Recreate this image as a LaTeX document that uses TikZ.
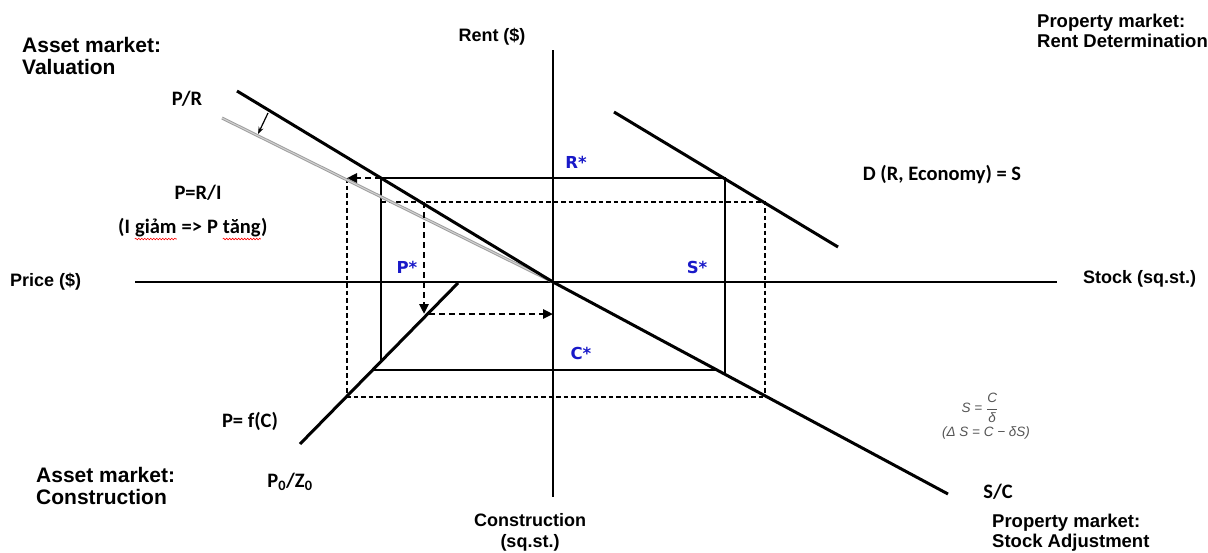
\documentclass[tikz,border=0pt]{standalone}
\usepackage{fontspec}
\setmainfont{Liberation Sans}
\newfontfamily\calib{Carlito}
\newfontfamily\dvs{DejaVu Sans}
\usetikzlibrary{arrows.meta,decorations.pathmorphing}
\definecolor{starblue}{RGB}{25,25,200}
\definecolor{fgray}{RGB}{85,85,85}
\begin{document}
\begin{tikzpicture}[x=1pt,y=-1pt,
  axis/.style={line width=1.8pt},
  curve/.style={line width=3pt},
  thinline/.style={line width=1.2pt},
  dsh/.style={line width=1.2pt, dash pattern=on 4.5pt off 3pt},
  darr/.style={line width=2.6pt, dash pattern=on 6pt off 4pt, -{Triangle[length=10pt,width=9pt]}},
  ttlA/.style={font=\bfseries\fontsize{21}{22}\selectfont, align=left, inner sep=0},
  ttl/.style={font=\bfseries\fontsize{18.5}{20}\selectfont, align=left, inner sep=0},
  axl/.style={font=\bfseries\fontsize{18}{21}\selectfont, align=center, inner sep=0},
  lbl/.style={font=\calib\bfseries\fontsize{20.5}{22}\selectfont, inner sep=0},
  star/.style={font=\dvs\bfseries\fontsize{16.5}{18}\selectfont, text=starblue, inner sep=0},
  fml/.style={font=\itshape\fontsize{13.5}{15}\selectfont, text=fgray, inner sep=0},
  squig/.style={red, line width=0.6pt, decorate, decoration={snake, segment length=3pt, amplitude=0.8pt}},
]
\useasboundingbox (0,0) rectangle (1208,552);
% coordinates
\coordinate (O) at (553,282);
\coordinate (axT) at (553,50);
\coordinate (axB) at (553,497);
\coordinate (axL) at (135,282);
\coordinate (axR) at (1057,282);
\coordinate (pr1) at (237,91);
\coordinate (sc2) at (948,494);
\coordinate (g1) at (222,118);
\coordinate (d1) at (614,112);
\coordinate (d2) at (838,247);
\coordinate (f1) at (300,444);
\coordinate (f2) at (458,283);
\coordinate (A) at (381,178);
\coordinate (B) at (725,178);
\coordinate (B2) at (725,374);
\coordinate (A2) at (381,362);
\coordinate (C1) at (372,370);
\coordinate (C2) at (717,370);
\coordinate (E1) at (381,202);
\coordinate (E2) at (765,202);
\coordinate (E3) at (765,396);
\coordinate (F1) at (346,397);
\coordinate (F2) at (767,397);
\coordinate (G1) at (347,178);
\coordinate (G2) at (347,396);
\coordinate (H1) at (424,202);
\coordinate (H2) at (424,314);
\coordinate (K1) at (429,314);
\coordinate (K2) at (553,314);
\coordinate (sa1) at (268,113);
\coordinate (sa2) at (258,134);

% axes
\draw[axis] (axT) -- (axB);
\draw[axis] (axL) -- (axR);

% rectangles
\draw[thinline] (A) -- (B) -- (B2);
\draw[thinline] (A) -- (A2);
\draw[thinline] (C1) -- (C2);
\draw[dsh] (E1) -- (E2) -- (E3);
\draw[dsh] (F1) -- (F2);
\draw[dsh] (G1) -- (G2);

% gray line
\draw[line width=3pt, gray!75] (g1) -- (O);
\draw[line width=1pt, gray!35] (g1) -- (O);

% curves
\draw[curve] (pr1) -- (O) -- (sc2);
\draw[curve] (d1) -- (d2);
\draw[curve] (f1) -- (f2);

% arrows
\draw[darr] (A) -- (G1);
\draw[darr] (H1) -- (H2);
\draw[darr] (K1) -- (K2);
\draw[line width=1.2pt, -{Stealth[length=7pt,width=5pt]}] (sa1) -- (sa2);

% titles
\node[ttlA, anchor=west] (t1) at (22,56) {Asset market:\\Valuation};
\node[ttlA, anchor=west] (t2) at (36,486) {Asset market:\\Construction};
\node[ttl, anchor=west] (t3) at (1037,31) {Property market:\\Rent Determination};
\node[ttl, anchor=west] (t4) at (992,533) {Property market:\\Stock Adjustment};
\node[axl] (t5) at (530,532) {Construction\\(sq.st.)};
\node[axl] (t6) at (492,37) {Rent (\$)};
\node[axl, anchor=west] (t7) at (10,282) {Price (\$)};
\node[axl, anchor=west] (t8) at (1083,279) {Stock (sq.st.)};

% labels
\node[lbl] (l1) at (187,99) {P/R};
\node[lbl] (l2) at (198,193) {P=R/I};
\node[lbl, anchor=base west] (q1) at (118,233) {(I};
\node[lbl, anchor=base west] (q2) at ([xshift=4.6pt]q1.base east) {giảm};
\node[lbl, anchor=base west] (q3) at ([xshift=4.6pt]q2.base east) {=>};
\node[lbl, anchor=base west] (q4) at ([xshift=4.6pt]q3.base east) {P};
\node[lbl, anchor=base west] (q5) at ([xshift=4.6pt]q4.base east) {tăng};
\node[lbl, anchor=base west] (q6) at (q5.base east) {)};
\draw[squig] ([yshift=-6pt]q2.base west) -- ([yshift=-6pt]q2.base east);
\draw[squig] ([yshift=-6pt]q5.base west) -- ([yshift=-6pt]q5.base east);
\node[lbl] (l3) at (942,175) {D (R, Economy) = S};
\node[lbl] (l4) at (250,421) {P= f(C)};
\node[lbl] (l5) at (290,482) {P\textsubscript{0}/Z\textsubscript{0}};
\node[lbl] (l6) at (998,492) {S/C};

% stars
\node[star] (s1) at (407,267) {P*};
\node[star] (s2) at (576,162) {R*};
\node[star] (s3) at (697,267) {S*};
\node[star] (s4) at (581,353) {C*};

% formula
\node[fml] (fm1) at (980,408) {S = $\displaystyle\frac{\textit{C}}{\textit{δ}}$};
\node[fml] (fm2) at (986,433) {(Δ S = C − δS)};
\end{tikzpicture}
\end{document}
